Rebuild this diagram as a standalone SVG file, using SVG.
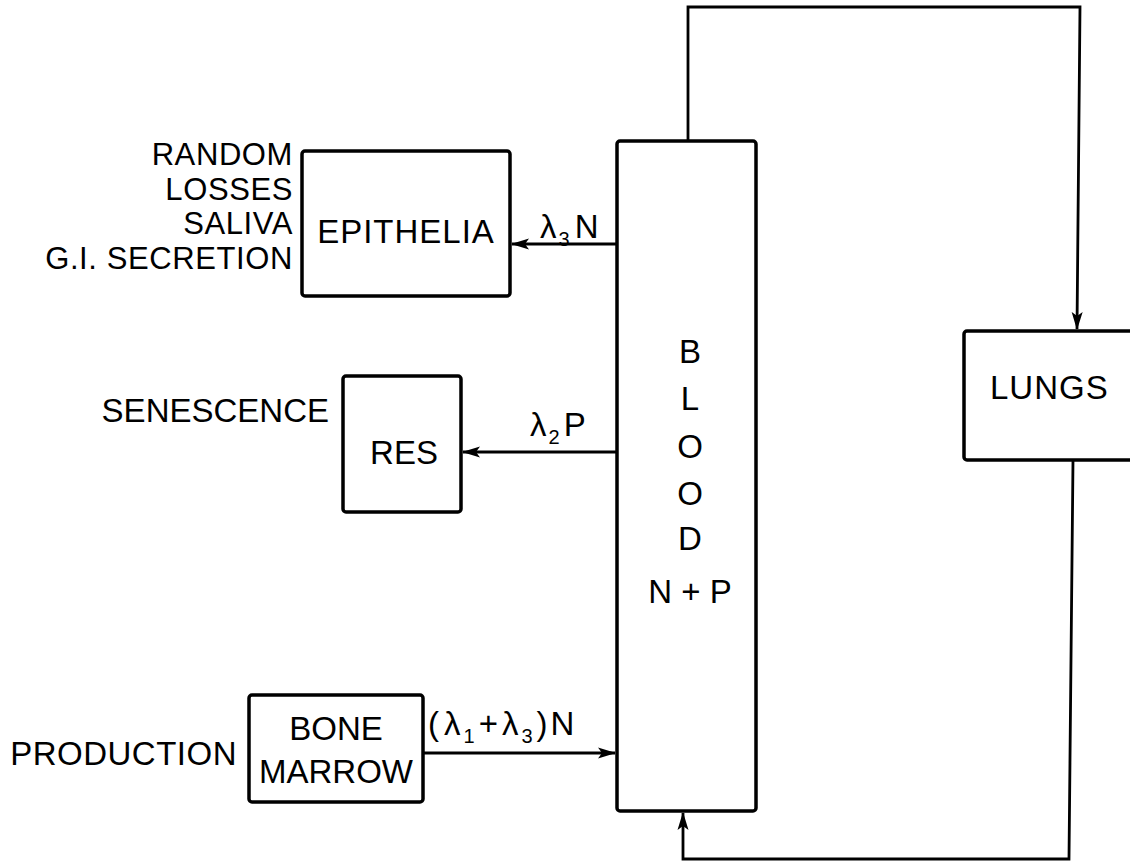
<svg xmlns="http://www.w3.org/2000/svg" width="1130" height="868" viewBox="0 0 1130 868">
<defs>
<marker id="ah" markerWidth="18" markerHeight="12" refX="17" refY="6" orient="auto" markerUnits="userSpaceOnUse">
<path d="M0,0.5 L18,6 L0,11.5 L4,6 Z" fill="#000"/>
</marker>
<style>
.box{fill:#fff;stroke:#000;stroke-width:3.5;stroke-linejoin:round}
.ln{fill:none;stroke:#000;stroke-width:2.8}
text{font-family:"Liberation Sans",Arial,sans-serif;font-size:33px;fill:#000}
.sub{font-size:20px}
.side{font-size:31px;letter-spacing:0.6px}
</style>
</defs>
<rect width="1130" height="868" fill="#fff"/>
<g id="connectors">
<path class="ln" d="M688,141 L688,7 L1080,7 L1077,329" marker-end="url(#ah)"/>
<path class="ln" d="M1073,460 L1069,859 L683,859 L683,813" marker-end="url(#ah)"/>
<path class="ln" d="M617,244 L512,244" marker-end="url(#ah)"/>
<path class="ln" d="M617,452 L463,452" marker-end="url(#ah)"/>
<path class="ln" d="M423,753 L615,753" marker-end="url(#ah)"/>
<text x="540" y="238">λ<tspan class="sub" dx="2" dy="8">3</tspan><tspan dy="-8" dx="5">N</tspan></text>
<text x="530" y="436">λ<tspan class="sub" dx="2" dy="8">2</tspan><tspan dy="-8" dx="4">P</tspan></text>
<text x="428" y="735">(<tspan dx="5">λ</tspan><tspan class="sub" dx="3" dy="8">1</tspan><tspan dy="-8" dx="4">+</tspan><tspan dx="4">λ</tspan><tspan class="sub" dx="3" dy="8">3</tspan><tspan dy="-8" dx="4">)</tspan><tspan dx="3">N</tspan></text>
</g>
<g id="blood">
<rect class="box" x="617" y="141" width="139" height="670" rx="3"/>
<text x="690" y="363" text-anchor="middle">B</text>
<text x="690" y="410" text-anchor="middle">L</text>
<text x="690" y="458" text-anchor="middle">O</text>
<text x="690" y="505" text-anchor="middle">O</text>
<text x="690" y="550" text-anchor="middle">D</text>
<text x="690" y="603" text-anchor="middle">N + P</text>
</g>
<g id="lungs">
<rect class="box" x="964" y="331" width="200" height="129" rx="3"/>
<text x="990" y="399" letter-spacing="1">LUNGS</text>
</g>
<g id="epithelia">
<rect class="box" x="302" y="151" width="208" height="145" rx="3"/>
<text x="406" y="243" text-anchor="middle" letter-spacing="1">EPITHELIA</text>
<text class="side" x="293" y="165" text-anchor="end">RANDOM</text>
<text class="side" x="293" y="199.5" text-anchor="end">LOSSES</text>
<text class="side" x="293" y="234" text-anchor="end">SALIVA</text>
<text class="side" x="293" y="268.5" text-anchor="end">G.I. SECRETION</text>
</g>
<g id="res">
<rect class="box" x="343" y="376" width="118" height="136" rx="3"/>
<text x="404" y="464" text-anchor="middle">RES</text>
<text x="329" y="422" text-anchor="end">SENESCENCE</text>
</g>
<g id="bone-marrow">
<rect class="box" x="249" y="695" width="174" height="107" rx="3"/>
<text x="336" y="740" text-anchor="middle">BONE</text>
<text x="336" y="783" text-anchor="middle">MARROW</text>
<text x="237" y="765" text-anchor="end" letter-spacing="0.5">PRODUCTION</text>
</g>
</svg>
